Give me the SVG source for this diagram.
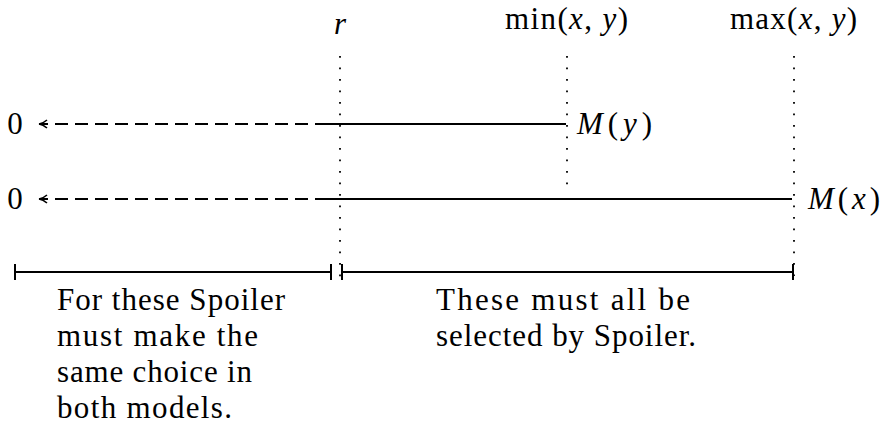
<svg xmlns="http://www.w3.org/2000/svg" width="882" height="432" viewBox="0 0 882 432">
<style>
text{font-family:"Liberation Serif","DejaVu Serif",serif;font-size:31px;fill:#000}
.it{font-style:italic}
.solid{stroke:#000;stroke-width:2;fill:none}
.dash{stroke:#000;stroke-width:2;fill:none;stroke-dasharray:13 7}
.dot{stroke:#000;stroke-width:1.8;fill:none;stroke-dasharray:1.8 9.7}
</style>
<defs>
<marker id="arr" markerWidth="14" markerHeight="12" refX="11" refY="6" orient="auto" markerUnits="userSpaceOnUse">
<path d="M3,2 Q7,5.5 11,6 Q7,6.5 3,10" stroke="#000" stroke-width="1.6" fill="none"/>
</marker>
</defs>
<rect width="882" height="432" fill="#fff"/>
<g id="guides">
<line class="dot" x1="340" y1="56" x2="340" y2="280"/>
<line class="dot" x1="567" y1="56" x2="567" y2="192"/>
<line class="dot" x1="794" y1="56" x2="794" y2="276"/>
</g>
<g id="connectors">
<line class="dash" x1="328" y1="124" x2="39" y2="124" marker-end="url(#arr)"/>
<line class="solid" x1="328" y1="124" x2="566" y2="124"/>
<line class="dash" x1="328" y1="199" x2="39" y2="199" marker-end="url(#arr)"/>
<line class="solid" x1="328" y1="199" x2="792" y2="199"/>
<g id="bracket-left">
<line class="solid" x1="15" y1="272" x2="331" y2="272"/>
<line class="solid" x1="15" y1="264" x2="15" y2="280"/>
<line class="solid" x1="331" y1="264" x2="331" y2="280"/>
</g>
<g id="bracket-right">
<line class="solid" x1="342" y1="272" x2="793" y2="272"/>
<line class="solid" x1="342" y1="264" x2="342" y2="280"/>
<line class="solid" x1="793" y1="264" x2="793" y2="280"/>
</g>
</g>
<g id="labels">
<text x="15" y="134" text-anchor="middle">0</text>
<text x="15" y="209" text-anchor="middle">0</text>
<text x="340" y="34" text-anchor="middle" class="it">r</text>
<text x="505" y="29" textLength="123" lengthAdjust="spacing">min(<tspan class="it">x</tspan>, <tspan class="it">y</tspan>)</text>
<text x="730" y="29" textLength="127" lengthAdjust="spacing">max(<tspan class="it">x</tspan>, <tspan class="it">y</tspan>)</text>
<text x="577" y="134" textLength="75" lengthAdjust="spacing"><tspan class="it">M</tspan>(<tspan class="it">y</tspan>)</text>
<text x="808" y="209" textLength="72" lengthAdjust="spacing"><tspan class="it">M</tspan>(<tspan class="it">x</tspan>)</text>
</g>
<g id="text-left">
<text x="57" y="310" textLength="228" lengthAdjust="spacing">For these Spoiler</text>
<text x="57" y="346" textLength="201" lengthAdjust="spacing">must make the</text>
<text x="57" y="382" textLength="195" lengthAdjust="spacing">same choice in</text>
<text x="57" y="418" textLength="175" lengthAdjust="spacing">both models.</text>
</g>
<g id="text-right">
<text x="436" y="310" textLength="254" lengthAdjust="spacing">These must all be</text>
<text x="436" y="346" textLength="260" lengthAdjust="spacing">selected by Spoiler.</text>
</g>
</svg>
